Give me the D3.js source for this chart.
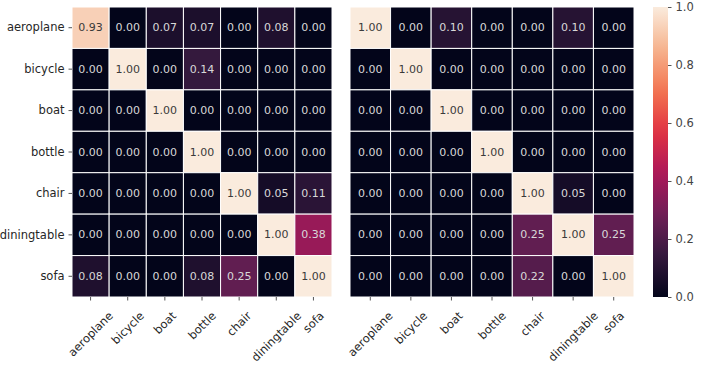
<!DOCTYPE html>
<html>
<head>
<meta charset="utf-8">
<script src="https://cdn.jsdelivr.net/npm/d3@7"></script>
<style>
  html, body { margin: 0; padding: 0; background: #fff; }
  svg { display: block; font-family: "DejaVu Sans", sans-serif; }
</style>
</head>
<body>
<svg id="chart" width="701" height="367"></svg>
<script>
// ---- data ----
const categories = ["aeroplane", "bicycle", "boat", "bottle", "chair", "diningtable", "sofa"];
const leftValues = [
  [0.93, 0.00, 0.07, 0.07, 0.00, 0.08, 0.00],
  [0.00, 1.00, 0.00, 0.14, 0.00, 0.00, 0.00],
  [0.00, 0.00, 1.00, 0.00, 0.00, 0.00, 0.00],
  [0.00, 0.00, 0.00, 1.00, 0.00, 0.00, 0.00],
  [0.00, 0.00, 0.00, 0.00, 1.00, 0.05, 0.11],
  [0.00, 0.00, 0.00, 0.00, 0.00, 1.00, 0.38],
  [0.08, 0.00, 0.00, 0.08, 0.25, 0.00, 1.00]
];
const rightValues = [
  [1.00, 0.00, 0.10, 0.00, 0.00, 0.10, 0.00],
  [0.00, 1.00, 0.00, 0.00, 0.00, 0.00, 0.00],
  [0.00, 0.00, 1.00, 0.00, 0.00, 0.00, 0.00],
  [0.00, 0.00, 0.00, 1.00, 0.00, 0.00, 0.00],
  [0.00, 0.00, 0.00, 0.00, 1.00, 0.05, 0.00],
  [0.00, 0.00, 0.00, 0.00, 0.25, 1.00, 0.25],
  [0.00, 0.00, 0.00, 0.00, 0.22, 0.00, 1.00]
];
const colorbarTicks = [0.0, 0.2, 0.4, 0.6, 0.8, 1.0];

// seaborn "rocket" colormap approximation
const rocketStops = ["#03051a", "#35193e", "#701f57", "#ad1759", "#e13342", "#f37651", "#f6b48f", "#faebdd"];
const rocket = d3.scaleLinear()
  .domain(rocketStops.map((_, i) => i / (rocketStops.length - 1)))
  .range(rocketStops)
  .interpolate(d3.interpolateRgb)
  .clamp(true);
const color = v => rocket(v);

const svg = d3.select("#chart");
const fontSize = 11;
const textColor = "#262626";

function luminance(c) {
  const rgb = d3.rgb(c);
  const f = x => { x /= 255; return x <= 0.03928 ? x / 12.92 : Math.pow((x + 0.055) / 1.055, 2.4); };
  return 0.2126 * f(rgb.r) + 0.7152 * f(rgb.g) + 0.0722 * f(rgb.b);
}

function heatmap(values, x0, x1, y0, y1, showY) {
  const g = svg.append("g");
  const x = d3.scaleBand().domain(categories).range([x0, x1]);
  const y = d3.scaleBand().domain(categories).range([y0, y1]);
  const cells = [];
  values.forEach((row, i) => row.forEach((v, j) => cells.push({ r: categories[i], c: categories[j], v })));

  g.selectAll("rect.cell").data(cells).join("rect")
    .attr("class", "cell")
    .attr("x", d => x(d.c)).attr("y", d => y(d.r))
    .attr("width", x.bandwidth()).attr("height", y.bandwidth())
    .attr("fill", d => color(d.v))
    .attr("stroke", "#ffffff").attr("stroke-width", 1);

  g.selectAll("text.ann").data(cells).join("text")
    .attr("class", "ann")
    .attr("x", d => x(d.c) + x.bandwidth() / 2)
    .attr("y", d => y(d.r) + y.bandwidth() / 2)
    .attr("text-anchor", "middle").attr("dominant-baseline", "central")
    .attr("font-size", fontSize)
    .attr("fill", d => luminance(color(d.v)) > 0.408 ? "#3a3a3a" : "#d8d8d8")
    .text(d => d.v.toFixed(2));

  // y axis
  if (showY) {
    const ay = g.append("g").attr("transform", `translate(${x0},0)`)
      .call(d3.axisLeft(y).tickSize(3.5).tickPadding(4));
    ay.select(".domain").remove();
    ay.selectAll("line").attr("stroke", "#555");
    ay.selectAll("text").attr("font-size", 11.5).attr("fill", textColor)
      .attr("font-family", "DejaVu Sans, sans-serif");
  }
  // x axis (rotated labels, bounding box centred under ticks)
  const ax = g.append("g").attr("transform", `translate(0,${y1})`)
    .call(d3.axisBottom(x).tickSize(3.5).tickPadding(0));
  ax.select(".domain").remove();
  ax.selectAll("line").attr("stroke", "#555");
  ax.selectAll("text")
    .attr("font-size", 11.5).attr("fill", textColor)
    .attr("font-family", "DejaVu Sans, sans-serif")
    .attr("text-anchor", "middle").attr("dominant-baseline", "central")
    .attr("dy", null)
    .each(function () {
      const L = this.getComputedTextLength();
      const h = 11.5 * 0.9;
      const half = (L + h) * Math.SQRT1_2 / 2;
      const ty = 13 + half;
      d3.select(this).attr("y", ty).attr("transform", `rotate(-45,0,${ty})`);
    });
}

heatmap(leftValues, 72, 332, 7, 297, true);
heatmap(rightValues, 350, 634, 7, 297, false);

// colorbar
const cbX = 653, cbW = 15, cbY0 = 7, cbY1 = 297;
const defs = svg.append("defs");
const grad = defs.append("linearGradient").attr("id", "cbgrad")
  .attr("x1", 0).attr("y1", 1).attr("x2", 0).attr("y2", 0);
d3.range(0, 1.0001, 0.05).forEach(t => {
  grad.append("stop").attr("offset", t).attr("stop-color", color(t));
});
svg.append("rect").attr("x", cbX).attr("y", cbY0).attr("width", cbW).attr("height", cbY1 - cbY0)
  .attr("fill", "url(#cbgrad)");
const cbScale = d3.scaleLinear().domain([0, 1]).range([cbY1, cbY0]);
const cbAxis = svg.append("g").attr("transform", `translate(${cbX + cbW},0)`)
  .call(d3.axisRight(cbScale).tickValues(colorbarTicks).tickFormat(d3.format(".1f")).tickSize(3.5).tickPadding(4));
cbAxis.select(".domain").remove();
cbAxis.selectAll("line").attr("stroke", "#555");
cbAxis.selectAll("text").attr("font-size", 11.5).attr("fill", "#444")
  .attr("font-family", "DejaVu Sans, sans-serif");
</script>
</body>
</html>
